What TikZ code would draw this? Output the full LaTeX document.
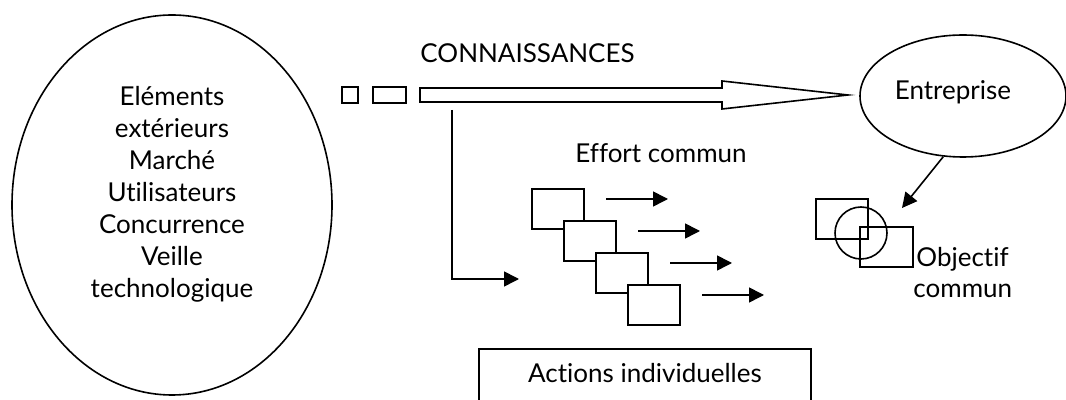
\documentclass[tikz,border=0pt]{standalone}
\usepackage{fontspec}
\setmainfont{Lato}[Ligatures=NoCommon]
\usetikzlibrary{arrows.meta,shapes.geometric}
\tikzset{
  outline/.style={draw=black, line width=0.8pt},
  label/.style={font=\fontsize{13}{16}\selectfont, inner sep=0pt},
  smallarrow/.style={draw=black, line width=0.8pt, -{Triangle[length=7.5pt,width=7.5pt]}},
  stackbox/.style={outline, fill=white},
}
\begin{document}
\begin{tikzpicture}[x=0.5pt,y=-0.5pt]
% page frame
\fill[white] (0,0) rectangle (1066,400);
\useasboundingbox (0,0) rectangle (1066,400);

% environment bubble on the left
\node[ellipse, outline, minimum width=320*0.5pt, minimum height=380*0.5pt, inner sep=0pt] (env) at (172,205) {};
\node[label, align=center] (envtext) at (172,194)
  {Eléments\\extérieurs\\Marché\\Utilisateurs\\Concurrence\\Veille\\technologique};

% knowledge flow: two small blocks and a hollow arrow
\node[outline, minimum width=16*0.5pt, minimum height=16*0.5pt, inner sep=0pt] (bit1) at (350,95) {};
\node[outline, minimum width=33*0.5pt, minimum height=16*0.5pt, inner sep=0pt] (bit2) at (389.5,95) {};
\draw[outline, line join=miter] (420,88) -- (722,88) -- (722,81) -- (848,95) -- (722,109) -- (722,102) -- (420,102) -- cycle;
\coordinate (split) at (452,110);
\node[label, anchor=base] (know) at (527.5,63) {CONNAISSANCES};

% company
\node[ellipse, outline, minimum width=206*0.5pt, minimum height=122*0.5pt, inner sep=0pt] (ent) at (963,96) {};
\node[label, anchor=base] (enttext) at (953,100) {Entreprise};

% common effort
\node[label, anchor=base] (effort) at (661,163) {Effort commun};
\coordinate (feed) at (519,279);
\draw[smallarrow] (split) |- (feed);

\node[stackbox, minimum width=52*0.5pt, minimum height=40*0.5pt, inner sep=0pt] (s1) at (558,209) {};
\node[stackbox, minimum width=52*0.5pt, minimum height=40*0.5pt, inner sep=0pt] (s2) at (590,241) {};
\node[stackbox, minimum width=52*0.5pt, minimum height=40*0.5pt, inner sep=0pt] (s3) at (622,273) {};
\node[stackbox, minimum width=52*0.5pt, minimum height=40*0.5pt, inner sep=0pt] (s4) at (654,305) {};

\coordinate (a1s) at (606,199); \coordinate (a1e) at (668,199);
\coordinate (a2s) at (638,231); \coordinate (a2e) at (700,231);
\coordinate (a3s) at (670,263); \coordinate (a3e) at (732,263);
\coordinate (a4s) at (702,295); \coordinate (a4e) at (764,295);
\draw[smallarrow] (a1s) -- (a1e);
\draw[smallarrow] (a2s) -- (a2e);
\draw[smallarrow] (a3s) -- (a3e);
\draw[smallarrow] (a4s) -- (a4e);

% common objective
\node[outline, minimum width=52*0.5pt, minimum height=40*0.5pt, inner sep=0pt] (o1) at (842,219) {};
\node[outline, minimum width=53*0.5pt, minimum height=40*0.5pt, inner sep=0pt] (o2) at (886.5,247) {};
\node[circle, outline, minimum size=52*0.5pt, inner sep=0pt] (oc) at (861,233) {};
\coordinate (aim) at (902,208);
\draw[smallarrow] (ent.252) -- (aim);
\node[label, anchor=base west] (obj1) at (916,267) {Objectif};
\node[label, anchor=base west] (obj2) at (913,298) {commun};

% individual actions
\draw[outline] (479,406) -- (479,349) -- (811,349) -- (811,406);
\node[label, anchor=base] (actions) at (645,383) {Actions individuelles};
\end{tikzpicture}
\end{document}
